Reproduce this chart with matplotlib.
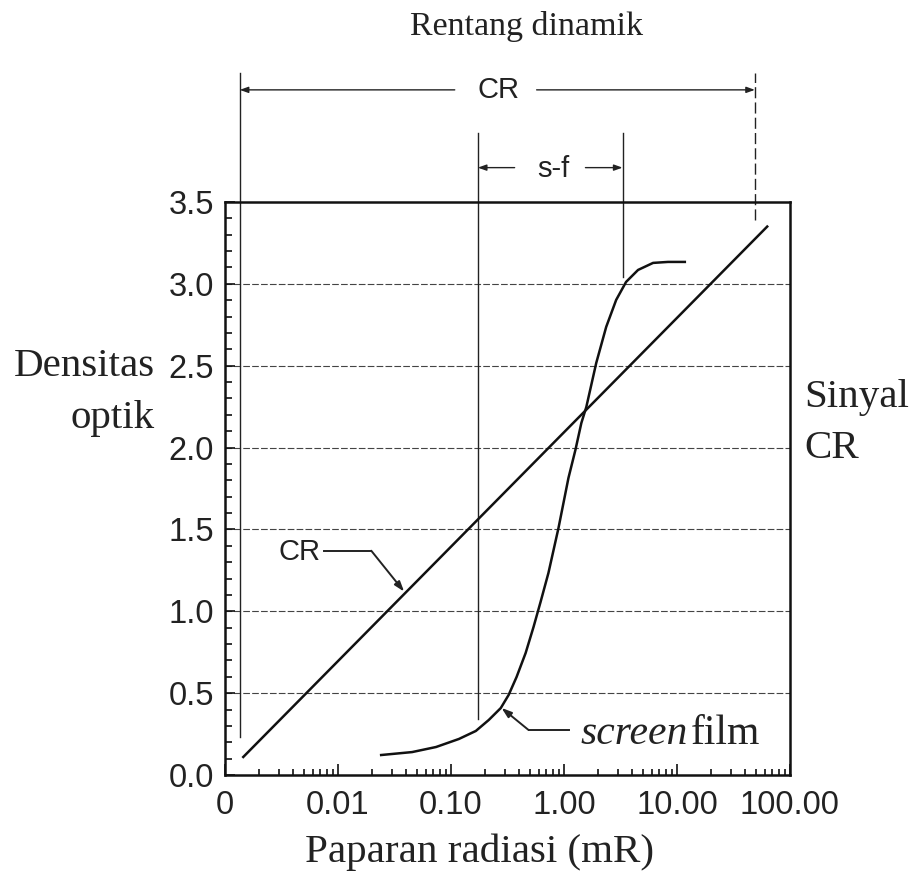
import matplotlib
matplotlib.use("Agg")
import matplotlib.pyplot as plt
from matplotlib.ticker import FixedLocator, FixedFormatter, LogLocator, MultipleLocator, NullFormatter

# ---- data ----
x_ticks = [0.001, 0.01, 0.1, 1, 10, 100]
x_ticklabels = ["0", "0.01", "0.10", "1.00", "10.00", "100.00"]
y_ticks = [0.0, 0.5, 1.0, 1.5, 2.0, 2.5, 3.0, 3.5]

cr_x = [0.00145, 63.0]
cr_y = [0.11, 3.35]

sf_x = [0.0241, 0.0453, 0.0738, 0.1175, 0.166, 0.216, 0.276, 0.324, 0.381, 0.458,
        0.538, 0.621, 0.729, 0.895, 1.096, 1.263, 1.426, 1.578, 1.932, 2.366,
        2.90, 3.55, 4.53, 6.15, 8.33, 11.75]
sf_y = [0.122, 0.140, 0.171, 0.220, 0.269, 0.336, 0.409, 0.489, 0.599, 0.745,
        0.904, 1.057, 1.234, 1.509, 1.814, 1.985, 2.150, 2.248, 2.517, 2.737,
        2.902, 3.012, 3.085, 3.128, 3.134, 3.134]

cr_range = [0.00135, 49.0]
sf_range = [0.173, 3.3]

SERIF = ["Liberation Serif", "DejaVu Serif"]
SANS = ["Liberation Sans", "DejaVu Sans"]

fig = plt.figure(figsize=(9.14, 8.76), dpi=100)
ax = fig.add_axes([0.2462, 0.1153, 0.618, 0.6541])
ax.set_xscale("log")
ax.set_xlim(0.001, 100)
ax.set_ylim(0, 3.5)

for s in ax.spines.values():
    s.set_linewidth(1.8)
    s.set_color("#111111")

# grid
for yv in y_ticks[1:-1]:
    ax.axhline(yv, color="#444444", lw=0.8, ls=(0, (6, 2)), zorder=1)

# curves
ax.plot(cr_x, cr_y, color="#111111", lw=1.8, zorder=3)
ax.plot(sf_x, sf_y, color="#111111", lw=1.8, zorder=3, solid_joinstyle="round")

# ticks
ax.xaxis.set_major_locator(FixedLocator(x_ticks))
ax.xaxis.set_major_formatter(FixedFormatter(x_ticklabels))
ax.xaxis.set_minor_locator(LogLocator(base=10, subs=[2, 3, 4, 5, 6, 7, 8, 9], numticks=20))
ax.xaxis.set_minor_formatter(NullFormatter())
ax.yaxis.set_major_locator(FixedLocator(y_ticks))
ax.yaxis.set_major_formatter(FixedFormatter(["%.1f" % v for v in y_ticks]))
ax.yaxis.set_minor_locator(MultipleLocator(0.1))
ax.tick_params(axis="both", which="both", direction="in", top=False, right=False, width=1.2, color="#111111")
ax.tick_params(axis="x", which="major", length=8, pad=11)
ax.tick_params(axis="x", which="minor", length=4)
ax.tick_params(axis="y", which="major", length=7, pad=8)
ax.tick_params(axis="y", which="minor", length=5)
for lab in ax.get_xticklabels() + ax.get_yticklabels():
    lab.set_fontfamily(SANS)
    lab.set_fontsize(23.5)
    lab.set_color("#222222")

lc = "#222222"
# range vertical lines
ax.plot([cr_range[0]] * 2, [0.23, 4.29], color=lc, lw=1.0, clip_on=False, zorder=2)
ax.plot([cr_range[1]] * 2, [3.39, 4.29], color=lc, lw=1.0, ls=(0, (8, 3)), clip_on=False, zorder=2)
ax.plot([sf_range[0]] * 2, [0.34, 3.92], color=lc, lw=1.0, clip_on=False, zorder=2)
ax.plot([sf_range[1]] * 2, [3.04, 3.92], color=lc, lw=1.0, clip_on=False, zorder=2)

arrow_kw = dict(arrowstyle="-|>,head_length=0.5,head_width=0.18", color=lc, lw=1.0, shrinkA=0, shrinkB=0)
# CR bracket
ax.annotate("", xy=(cr_range[0], 4.185), xytext=(0.108, 4.185), arrowprops=arrow_kw, annotation_clip=False)
ax.annotate("", xy=(cr_range[1], 4.185), xytext=(0.573, 4.185), arrowprops=arrow_kw, annotation_clip=False)
ax.text(0.265, 4.185, "CR", ha="center", va="center", fontsize=21, family=SANS, color=lc)
# s-f bracket
ax.annotate("", xy=(sf_range[0], 3.71), xytext=(0.366, 3.71), arrowprops=arrow_kw, annotation_clip=False)
ax.annotate("", xy=(sf_range[1], 3.71), xytext=(1.55, 3.71), arrowprops=arrow_kw, annotation_clip=False)
ax.text(0.81, 3.70, "s-f", ha="center", va="center", fontsize=21, family=SANS, color=lc)

# curve labels
ax.text(0.0046, 1.36, "CR", ha="center", va="center", fontsize=21, family=SANS, color=lc)
ax.plot([0.0075, 0.0197], [1.37, 1.37], color=lc, lw=1.4)
ax.annotate("", xy=(0.0385, 1.12), xytext=(0.0197, 1.37),
            arrowprops=dict(arrowstyle="-|>,head_length=0.6,head_width=0.2", color=lc, lw=1.4, shrinkA=0, shrinkB=0))

ax.plot([0.486, 1.1], [0.275, 0.275], color=lc, lw=1.4)
ax.annotate("", xy=(0.28, 0.41), xytext=(0.486, 0.275),
            arrowprops=dict(arrowstyle="-|>,head_length=0.6,head_width=0.2", color=lc, lw=1.4, shrinkA=0, shrinkB=0))
ax.text(1.40, 0.25, "screen", ha="left", va="center", fontsize=30, family=SERIF, style="italic", color=lc)
ax.text(13.3, 0.25, "film", ha="left", va="center", fontsize=30, family=SERIF, color=lc)

# texts in figure coords
fig.text(527 / 914, 1 - 27 / 876, "Rentang dinamik", ha="center", va="center", fontsize=24.5, family=SERIF, color=lc)
fig.text(155 / 914, 1 - 367 / 876, "Densitas", ha="right", va="center", fontsize=29.5, family=SERIF, color=lc)
fig.text(155 / 914, 1 - 418 / 876, "optik", ha="right", va="center", fontsize=29.5, family=SERIF, color=lc)
fig.text(804 / 914, 1 - 397 / 876, "Sinyal", ha="left", va="center", fontsize=29.5, family=SERIF, color=lc)
fig.text(804 / 914, 1 - 448 / 876, "CR", ha="left", va="center", fontsize=29.5, family=SERIF, color=lc)
fig.text(480 / 914, 1 - 852 / 876, "Paparan radiasi (mR)", ha="center", va="center", fontsize=29.5, family=SERIF, color=lc)

fig.savefig("out.png", dpi=100, facecolor="white")
